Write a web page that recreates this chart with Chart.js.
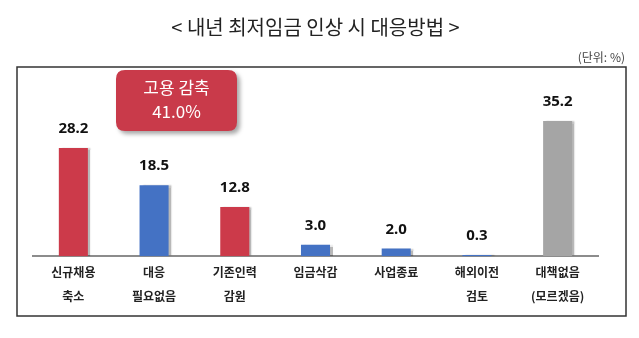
<!DOCTYPE html>
<html>
<head>
<meta charset="utf-8">
<script src="https://cdn.jsdelivr.net/npm/chart.js@4"></script>
<style>
  html, body { margin: 0; padding: 0; background: #fff; }
  #wrap { width: 639px; height: 338px; position: relative; }
</style>
</head>
<body>
<div id="wrap"><canvas id="c" width="639" height="338"></canvas></div>
<script>
// Responses to next year's minimum wage increase (%)
const categories = [
  ['신규채용', '축소'],
  ['대응', '필요없음'],
  ['기존인력', '감원'],
  ['임금삭감'],
  ['사업종료'],
  ['해외이전', '검토'],
  ['대책없음', '(모르겠음)']
];
const values = [28.2, 18.5, 12.8, 3.0, 2.0, 0.3, 35.2];
const barColors = ['#cc3a4a', '#4472c4', '#cc3a4a', '#4472c4', '#4472c4', '#4472c4', '#a5a5a5'];
const calloutLines = ['고용 감축', '41.0%'];
const unitLabel = '(단위: %)';
const titleText = '< 내년 최저임금 인상 시 대응방법 >';

const KR = '"Noto Sans CJK KR", "Noto Sans", sans-serif';

function roundRect(ctx, x, y, w, h, r) {
  ctx.beginPath();
  ctx.moveTo(x + r, y);
  ctx.lineTo(x + w - r, y);
  ctx.quadraticCurveTo(x + w, y, x + w, y + r);
  ctx.lineTo(x + w, y + h - r);
  ctx.quadraticCurveTo(x + w, y + h, x + w - r, y + h);
  ctx.lineTo(x + r, y + h);
  ctx.quadraticCurveTo(x, y + h, x, y + h - r);
  ctx.lineTo(x, y + r);
  ctx.quadraticCurveTo(x, y, x + r, y);
  ctx.closePath();
}

// Outer frame and unit note
const framePlugin = {
  id: 'frame',
  beforeDraw(chart) {
    const { ctx, chartArea } = chart;
    ctx.save();
    ctx.fillStyle = '#fff';
    ctx.fillRect(0, 0, chart.width, chart.height);
    ctx.strokeStyle = '#333';
    ctx.lineWidth = 1.5;
    ctx.strokeRect(chartArea.left - 16, chartArea.top - 3, chartArea.right - chartArea.left + 44, 249);
    ctx.fillStyle = '#444';
    ctx.font = '12px ' + KR;
    ctx.textAlign = 'right';
    ctx.textBaseline = 'middle';
    ctx.fillText(unitLabel, chartArea.right + 27, chartArea.top - 13);
    ctx.restore();
  }
};

// Soft drop shadow behind the bars
const shadowPlugin = {
  id: 'barShadow',
  beforeDatasetsDraw(chart) {
    const ctx = chart.ctx;
    ctx.save();
    ctx.shadowColor = 'rgba(0,0,0,0.28)';
    ctx.shadowOffsetX = 3;
    ctx.shadowOffsetY = 0;
    ctx.shadowBlur = 1.5;
  },
  afterDatasetsDraw(chart) {
    chart.ctx.restore();
  }
};

// Value labels above bars and the highlight callout
const labelPlugin = {
  id: 'valueLabels',
  afterDraw(chart) {
    const { ctx, chartArea } = chart;
    const meta = chart.getDatasetMeta(0);
    ctx.save();
    ctx.fillStyle = '#111';
    ctx.font = 'bold 15px "Noto Sans", sans-serif';
    ctx.textAlign = 'center';
    ctx.textBaseline = 'middle';
    meta.data.forEach((bar, i) => {
      ctx.fillText(values[i].toFixed(1), bar.x, bar.y - 19);
    });

    // callout box
    const bx = chartArea.left + 83, by = chartArea.top, bw = 121, bh = 61;
    ctx.shadowColor = 'rgba(0,0,0,0.35)';
    ctx.shadowOffsetX = 3;
    ctx.shadowOffsetY = 3;
    ctx.shadowBlur = 4;
    ctx.fillStyle = '#c93a4a';
    roundRect(ctx, bx, by, bw, bh, 9);
    ctx.fill();
    ctx.shadowColor = 'transparent';
    ctx.fillStyle = '#fff';
    ctx.font = '17px ' + KR;
    ctx.fillText(calloutLines[0], bx + bw / 2, by + 18);
    ctx.fillText(calloutLines[1], bx + bw / 2, by + 42);
    ctx.restore();
  }
};

new Chart(document.getElementById('c'), {
  type: 'bar',
  data: {
    labels: categories,
    datasets: [{
      data: values,
      backgroundColor: barColors,
      borderWidth: 0,
      categoryPercentage: 1,
      barPercentage: 0.36
    }]
  },
  options: {
    responsive: false,
    animation: false,
    layout: { padding: { left: 33, right: 41, top: 0, bottom: 33 } },
    plugins: {
      legend: { display: false },
      tooltip: { enabled: false },
      title: {
        display: true,
        text: titleText,
        color: '#222',
        font: { family: KR, size: 20, weight: 'normal', lineHeight: 1.2 },
        padding: { top: 15, bottom: 31 }
      }
    },
    scales: {
      x: {
        offset: true,
        grid: { display: false },
        border: { display: true, color: '#8c8c8c', width: 2 },
        ticks: {
          color: '#222',
          padding: -3,
          font: { family: KR, size: 12, weight: 'bold', lineHeight: 1.95 },
          maxRotation: 0,
          autoSkip: false
        }
      },
      y: {
        display: false,
        min: 0,
        max: 48.5
      }
    }
  },
  plugins: [framePlugin, shadowPlugin, labelPlugin]
});
</script>
</body>
</html>
